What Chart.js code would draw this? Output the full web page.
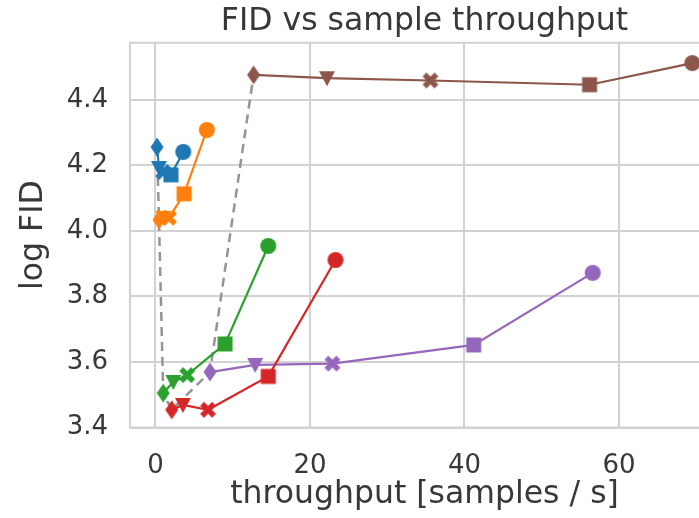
<!DOCTYPE html>
<html>
<head>
<meta charset="utf-8">
<script src="https://cdn.jsdelivr.net/npm/chart.js@4.4.1/dist/chart.umd.min.js"></script>
<style>
  html, body { margin: 0; padding: 0; background: #fff; overflow: hidden; }
  #wrap { width: 730px; height: 518px; }
</style>
</head>
<body>
<div id="wrap"><canvas id="chart"></canvas></div>
<script>
// Values (x = samples / s, y = log FID)
const blueX = [0.2, 0.45, 1.0, 2.0, 3.6];
const blueY = [4.256, 4.192, 4.18, 4.171, 4.241];
const orangeX = [0.45, 1.0, 1.75, 3.7, 6.65];
const orangeY = [4.034, 4.04, 4.04, 4.113, 4.308];
const greenX = [1.0, 2.3, 4.1, 9.0, 14.6];
const greenY = [3.505, 3.539, 3.56, 3.655, 3.954];
const redX = [2.1, 3.55, 6.8, 14.6, 23.3];
const redY = [3.454, 3.469, 3.454, 3.556, 3.911];
const purpleX = [7.05, 12.9, 22.9, 41.2, 56.6];
const purpleY = [3.569, 3.591, 3.595, 3.652, 3.872];
const brownX = [12.7, 22.2, 35.6, 56.2, 69.5];
const brownY = [4.476, 4.466, 4.459, 4.446, 4.512];
const markers = ["d", "v", "X", "s", "o"]; // same marker order in every series
const xTicks = [0, 20, 40, 60];
const yTicks = [3.4, 3.6, 3.8, 4.0, 4.2, 4.4];

const FONT = "DejaVu Sans";
const TEXT = "#383838";
const GRID = "#d2d2d2";

// matplotlib-like marker images
function marker(kind, color) {
  const c = document.createElement("canvas");
  c.width = 22; c.height = 22;
  const g = c.getContext("2d");
  const m = 11;
  g.fillStyle = color;
  g.strokeStyle = color;
  g.beginPath();
  if (kind === "o") {
    g.arc(m, m, 8, 0, Math.PI * 2);
  } else if (kind === "s") {
    g.rect(m - 7.5, m - 7.5, 15, 15);
  } else if (kind === "v") {
    g.moveTo(m - 8, m - 7); g.lineTo(m + 8, m - 7); g.lineTo(m, m + 8);
    g.closePath();
  } else if (kind === "d") {
    g.moveTo(m, m - 9.5); g.lineTo(m + 6.5, m); g.lineTo(m, m + 9.5); g.lineTo(m - 6.5, m);
    g.closePath();
  }
  if (kind === "X") {
    g.lineWidth = 5.5;
    g.moveTo(m - 6, m - 6); g.lineTo(m + 6, m + 6);
    g.moveTo(m + 6, m - 6); g.lineTo(m - 6, m + 6);
    g.stroke();
  } else {
    g.fill();
  }
  return c;
}

function series(xs, ys, color) {
  return {
    data: xs.map((x, i) => ({ x: x, y: ys[i] })),
    showLine: true,
    borderColor: color,
    backgroundColor: color,
    borderWidth: 2.2,
    pointStyle: markers.map(k => marker(k, color)),
    pointRadius: 8,
    order: 1
  };
}

const all = [
  [blueX, blueY, "#1f77b4"],
  [orangeX, orangeY, "#ff7f0e"],
  [greenX, greenY, "#2ca02c"],
  [redX, redY, "#d62728"],
  [purpleX, purpleY, "#9467bd"],
  [brownX, brownY, "#8c564b"]
];

const datasets = all.map(s => series(s[0], s[1], s[2]));

// dashed line through the first point of each series
datasets.push({
  data: all.map(s => ({ x: s[0][0], y: s[1][0] })),
  showLine: true,
  borderColor: "#949494",
  borderWidth: 2.5,
  borderDash: [9, 6],
  pointRadius: 0,
  order: 10
});

// light frame round the plot area
const frame = {
  id: "frame",
  beforeDatasetsDraw(chart) {
    const a = chart.chartArea, ctx = chart.ctx;
    ctx.save();
    ctx.strokeStyle = GRID;
    ctx.lineWidth = 2;
    ctx.strokeRect(a.left, a.top, a.right - a.left, a.bottom - a.top);
    ctx.restore();
  }
};

new Chart(document.getElementById("chart"), {
  type: "scatter",
  data: { datasets: datasets },
  plugins: [frame],
  options: {
    responsive: true,
    maintainAspectRatio: false,
    animation: false,
    layout: { padding: { left: 0, right: 11, top: 0, bottom: 0 } },
    plugins: {
      legend: { display: false },
      tooltip: { enabled: false },
      title: {
        display: true,
        text: "FID vs sample throughput",
        fullSize: false,
        color: TEXT,
        font: { family: FONT, size: 31.5, weight: "normal" },
        padding: { top: 3, bottom: 2 }
      }
    },
    scales: {
      x: {
        type: "linear",
        min: -3.3,
        max: 72.95,
        afterBuildTicks: s => { s.ticks = xTicks.map(v => ({ value: v })); },
        afterFit: s => { s.height = 90.5; },
        grid: { color: GRID, lineWidth: 2, drawTicks: false },
        border: { display: false },
        ticks: {
          padding: 23,
          color: TEXT,
          font: { family: FONT, size: 26 },
          maxRotation: 0,
          callback: v => String(v)
        },
        title: {
          display: true,
          text: "throughput [samples / s]",
          color: TEXT,
          font: { family: FONT, size: 31.5 },
          padding: { top: 0, bottom: 4 }
        }
      },
      y: {
        type: "linear",
        min: 3.4,
        max: 4.574,
        afterBuildTicks: s => { s.ticks = yTicks.map(v => ({ value: v })); },
        afterFit: s => { s.width = 130; },
        grid: { color: GRID, lineWidth: 2, drawTicks: false },
        border: { display: false },
        ticks: {
          padding: 22,
          color: TEXT,
          font: { family: FONT, size: 26 },
          callback: v => v.toFixed(1)
        },
        title: {
          display: true,
          text: "log FID",
          color: TEXT,
          font: { family: FONT, size: 31.5 },
          padding: { top: 15, bottom: 0 }
        }
      }
    }
  }
});
</script>
</body>
</html>
